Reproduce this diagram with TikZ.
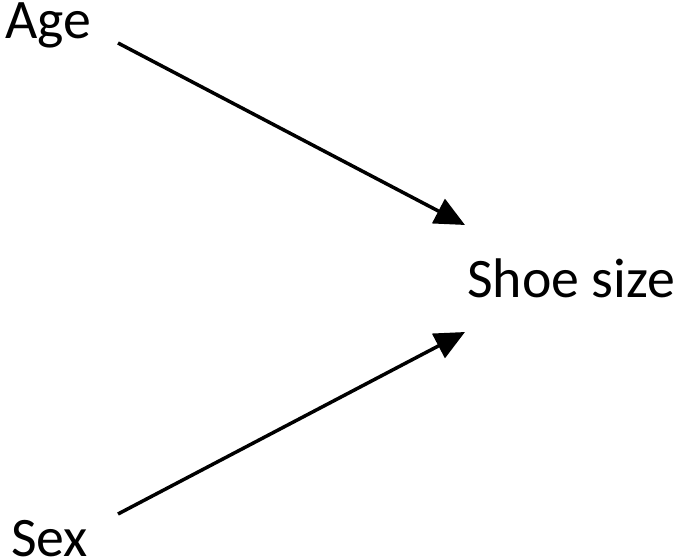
\documentclass[tikz,border=0pt]{standalone}
\usepackage{fontspec}
\setmainfont{Carlito}
\usetikzlibrary{arrows.meta}
\tikzset{
  lbl/.style={inner sep=0pt, anchor=base west, font=\fontsize{56}{62}\selectfont},
  arr/.style={line width=3.5bp, -{Triangle[length=30bp,width=27bp]}}
}
\begin{document}
\begin{tikzpicture}[x=1bp,y=-1bp]
\useasboundingbox (0,0) rectangle (685,559);
\node[lbl] (age) at (5,39) {Age};
\node[lbl] (sex) at (11,556) {Sex};
\node[lbl] (shoe) at (467,297) {Shoe size};
\coordinate (agestart) at (118,43);
\coordinate (sexstart) at (118,514);
\coordinate (shoetop) at (465,225);
\coordinate (shoebot) at (465,332);
\draw[arr] (agestart) -- (shoetop);
\draw[arr] (sexstart) -- (shoebot);
\end{tikzpicture}
\end{document}
